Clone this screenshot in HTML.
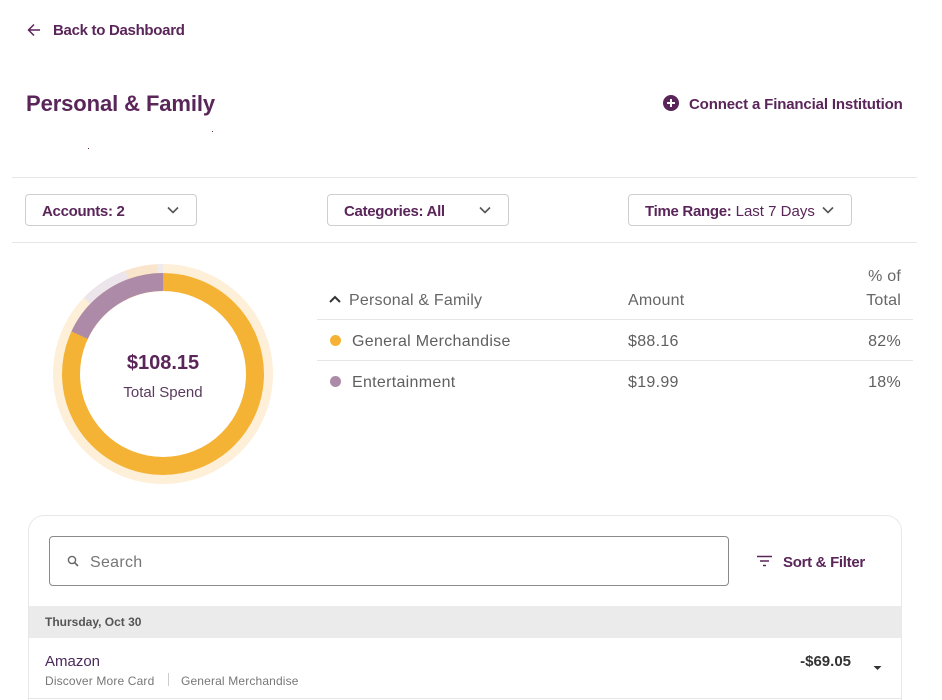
<!DOCTYPE html>
<html><head><meta charset="utf-8"><style>
*{margin:0;padding:0;box-sizing:border-box}
html,body{width:942px;height:700px;overflow:hidden;background:#fff;font-family:"Liberation Sans",Arial,sans-serif}
.a{position:absolute;white-space:nowrap}
.p{color:#5a2559}
.hr{position:absolute;height:1px;background:#e6e6e6}
.dd{position:absolute;top:194px;height:32px;border:1px solid #cfcfcf;border-radius:4px}
.dd span{position:absolute;top:8px;font-size:15px;line-height:18px}
.chev{position:absolute;top:10px}
.th{font-size:16px;color:#666;line-height:20px;letter-spacing:0.2px}
.td{font-size:16px;color:#5f5f5f;line-height:20px;letter-spacing:0.3px}
</style></head><body>

<svg class="a" style="left:26px;top:22px" width="16" height="16" viewBox="0 0 16 16"><path d="M14 8H2.5M8 2.5L2.5 8L8 13.5" fill="none" stroke="#5a2559" stroke-width="1.5"/></svg>
<div class="a p" style="left:53px;top:22px;font-size:15px;line-height:18px;font-weight:bold;letter-spacing:-0.3px">Back to Dashboard</div>

<div class="a p" style="left:26px;top:91px;font-size:22px;line-height:26px;font-weight:bold;letter-spacing:-0.1px">Personal &amp; Family</div>
<div class="a" style="left:212px;top:131px;width:1px;height:1px;background:#5a2559"></div>
<div class="a" style="left:88px;top:148px;width:1px;height:1px;background:#5a2559"></div>

<svg class="a" style="left:662px;top:94px" width="18" height="18" viewBox="0 0 18 18"><circle cx="9" cy="9" r="8" fill="#5a2559"/><path d="M9 5v8M5 9h8" stroke="#fff" stroke-width="2"/></svg>
<div class="a p" style="left:689px;top:96px;font-size:15px;line-height:18px;font-weight:bold;letter-spacing:-0.15px">Connect a Financial Institution</div>

<div class="hr" style="left:12px;top:177px;width:905px"></div>

<div class="dd" style="left:25px;width:172px"><span class="p" style="left:16px;font-weight:bold;letter-spacing:-0.3px">Accounts: 2</span>
<svg class="chev" style="left:141px" width="12" height="10" viewBox="0 0 12 10"><path d="M1 2.5L6 7.5L11 2.5" fill="none" stroke="#555" stroke-width="1.6"/></svg></div>
<div class="dd" style="left:327px;width:182px"><span class="p" style="left:16px;font-weight:bold;letter-spacing:-0.3px">Categories: All</span>
<svg class="chev" style="left:151px" width="12" height="10" viewBox="0 0 12 10"><path d="M1 2.5L6 7.5L11 2.5" fill="none" stroke="#555" stroke-width="1.6"/></svg></div>
<div class="dd" style="left:628px;width:224px"><span class="p" style="left:16px"><b style="letter-spacing:-0.3px">Time Range:</b> Last 7 Days</span>
<svg class="chev" style="left:193px" width="12" height="10" viewBox="0 0 12 10"><path d="M1 2.5L6 7.5L11 2.5" fill="none" stroke="#555" stroke-width="1.6"/></svg></div>

<div class="hr" style="left:12px;top:242px;width:905px"></div>

<svg class="a" style="left:0;top:0" width="320" height="500">
<circle cx="163" cy="374" r="105.5" fill="none" stroke="#fdefd8" stroke-width="9"/>
<circle cx="163" cy="374" r="105.5" fill="none" stroke="#ece5eb" stroke-width="9" stroke-dasharray="47.9 700" transform="rotate(-136 163 374)"/>
<circle cx="163" cy="374" r="105.5" fill="none" stroke="#f9e5cc" stroke-width="9" stroke-dasharray="31.3 700" transform="rotate(-110 163 374)"/>
<circle cx="163" cy="374" r="105.5" fill="none" stroke="#efeaee" stroke-width="9" stroke-dasharray="5.5 700" transform="rotate(-93 163 374)"/>
<circle cx="163" cy="374" r="92" fill="none" stroke="#f4b335" stroke-width="18"/>
<circle cx="163" cy="374" r="92" fill="none" stroke="#ad8ba8" stroke-width="18" stroke-dasharray="104.4 700" transform="rotate(-155 163 374)"/>
</svg>
<div class="a p" style="left:63px;top:351px;width:200px;text-align:center;font-size:20px;line-height:24px;font-weight:bold">$108.15</div>
<div class="a" style="left:63px;top:384px;width:200px;text-align:center;font-size:15px;line-height:18px;color:#5a3a5e">Total Spend</div>

<svg class="a" style="left:328px;top:294px" width="14" height="10" viewBox="0 0 14 10"><path d="M2 8L7 3L12 8" fill="none" stroke="#333" stroke-width="2"/></svg>
<div class="a th" style="left:349px;top:291px">Personal &amp; Family</div>
<div class="a th" style="left:628px;top:291px">Amount</div>
<div class="a th" style="left:800px;width:101px;text-align:right;top:267px">% of</div>
<div class="a th" style="left:800px;width:101px;text-align:right;top:291px">Total</div>
<div class="hr" style="left:317px;top:319px;width:596px"></div>
<div class="a" style="left:330px;top:335px;width:11px;height:11px;border-radius:50%;background:#f4b335"></div>
<div class="a td" style="left:352px;top:332px">General Merchandise</div>
<div class="a td" style="left:628px;top:332px">$88.16</div>
<div class="a td" style="left:800px;width:101px;text-align:right;top:332px">82%</div>
<div class="hr" style="left:317px;top:360px;width:596px"></div>
<div class="a" style="left:330px;top:376px;width:11px;height:11px;border-radius:50%;background:#ad8ba8"></div>
<div class="a td" style="left:352px;top:373px">Entertainment</div>
<div class="a td" style="left:628px;top:373px">$19.99</div>
<div class="a td" style="left:800px;width:101px;text-align:right;top:373px">18%</div>

<div class="a" style="left:28px;top:515px;width:874px;height:185px;border:1px solid #e8e8e8;border-bottom:none;border-radius:16px 16px 0 0"></div>
<div class="a" style="left:49px;top:536px;width:680px;height:50px;border:1px solid #8a8a8a;border-radius:4px"></div>
<svg class="a" style="left:67px;top:555px" width="12" height="12" viewBox="0 0 12 12"><circle cx="5" cy="5" r="3.6" fill="none" stroke="#666" stroke-width="1.4"/><path d="M7.6 7.6L11 11" stroke="#666" stroke-width="1.6"/></svg>
<div class="a" style="left:90px;top:553px;font-size:16px;line-height:20px;color:#767676;letter-spacing:0.3px">Search</div>

<svg class="a" style="left:757px;top:555px" width="15" height="12" viewBox="0 0 15 12"><path d="M0 1.5H15M3 6H12M6 10.5H9" stroke="#5a2559" stroke-width="1.4"/></svg>
<div class="a p" style="left:783px;top:554px;font-size:15px;line-height:18px;font-weight:bold;letter-spacing:-0.3px">Sort &amp; Filter</div>

<div class="a" style="left:29px;top:606px;width:872px;height:32px;background:#ebebeb"></div>
<div class="a" style="left:45px;top:615px;font-size:12px;line-height:15px;font-weight:bold;color:#555">Thursday, Oct 30</div>

<div class="a" style="left:45px;top:653px;font-size:15px;line-height:18px;color:#4b2a5a">Amazon</div>
<div class="a" style="left:45px;top:674px;font-size:12px;line-height:15px;color:#777;letter-spacing:0.15px">Discover More Card</div>
<div class="a" style="left:168px;top:673px;width:1px;height:13px;background:#ccc"></div>
<div class="a" style="left:181px;top:674px;font-size:12px;line-height:15px;color:#777;letter-spacing:0.15px">General Merchandise</div>
<div class="a" style="left:780px;top:653px;width:71px;text-align:right;font-size:15px;line-height:18px;font-weight:bold;color:#333">-$69.05</div>
<svg class="a" style="left:873px;top:665px" width="9" height="6" viewBox="0 0 9 6"><path d="M0.5 1H8.5L4.5 5Z" fill="#333"/></svg>
<div class="hr" style="left:29px;top:698px;width:872px"></div>

</body></html>
